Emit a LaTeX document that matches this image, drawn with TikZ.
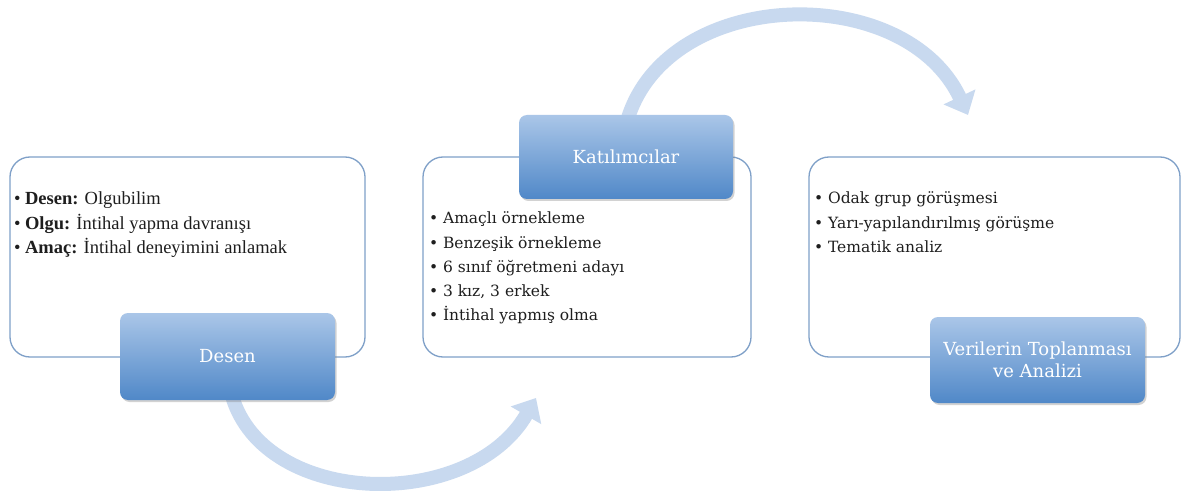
\documentclass[tikz,border=0pt]{standalone}
\usepackage{fontspec}
\setmainfont{Liberation Serif}
\newfontfamily\listfont{DejaVu Serif}
\usepackage{tikz}
\usetikzlibrary{arrows.meta,shadows}

\tikzset{
  whitebox/.style={draw=boxLine,line width=1.3pt,fill=white,rounded corners=20pt},
  bluebox/.style={rounded corners=8pt,top color=blueTop,bottom color=blueBottom,
    draw=none,drop shadow={opacity=0.35,shadow xshift=1.5pt,shadow yshift=-2pt},
    text=white,align=center,font=\listfont\fontsize{18}{22}\selectfont,
    minimum width=215pt,inner sep=0pt},
  listtext/.style={anchor=north west,align=left,inner sep=0pt,outer sep=0pt,
    text=textColor,font=\fontsize{18.5}{24.5}\selectfont},
  listtextb/.style={listtext,font=\listfont\fontsize{15.5}{24.2}\selectfont},
  flowarrow/.style={draw=arrowColor,line width=14pt,
    -{Triangle[width=34pt,length=20pt]}}
}

\begin{document}
\begin{tikzpicture}[x=1pt,y=1pt]
\definecolor{boxLine}{RGB}{127,160,200}
\definecolor{blueTop}{RGB}{170,198,232}
\definecolor{blueBottom}{RGB}{80,136,200}
\definecolor{arrowColor}{RGB}{200,217,239}
\definecolor{textColor}{RGB}{30,30,30}
\path[use as bounding box,fill=white] (0,0) rectangle (1181,496);

% white boxes
\path[whitebox] ( 10,139) rectangle (365,339);
\path[whitebox] (423,139) rectangle (751,339);
\path[whitebox] (809,139) rectangle (1180,339);

% curved arrows
\coordinate (tipbottom) at (536,98);
\coordinate (tiptop) at (968,381);
\coordinate (startbottom) at (232,100);
\coordinate (starttop) at (628,378);
\path[flowarrow] (startbottom) .. controls (265,-12) and (470,-16) .. (tipbottom);
\path[flowarrow] (starttop) .. controls (670,510) and (905,515) .. (tiptop);

% blue title boxes
\node[bluebox,minimum height=87pt] (desen) at (227.5,139.5) {Desen};
\node[bluebox,minimum width=214pt,minimum height=84pt] (katilim) at (626,339) {Katılımcılar};
\node[bluebox,minimum height=86pt] (veriler) at (1037.5,136) {Verilerin Toplanması\\ve Analizi};

% lists
\node[listtext] (desenlist) at (14,304) {%
  • \textbf{Desen:} Olgubilim\\
  • \textbf{Olgu:} İntihal yapma davranışı\\
  • \textbf{Amaç:} İntihal deneyimini anlamak};

\node[listtextb] (katilimlist) at (429,284) {%
  • Amaçlı örnekleme\\
  • Benzeşik örnekleme\\
  • 6 sınıf öğretmeni adayı\\
  • 3 kız, 3 erkek\\
  • İntihal yapmış olma};

\node[listtextb] (verilerlist) at (814,304) {%
  • Odak grup görüşmesi\\
  • Yarı-yapılandırılmış görüşme\\
  • Tematik analiz};
\end{tikzpicture}
\end{document}
